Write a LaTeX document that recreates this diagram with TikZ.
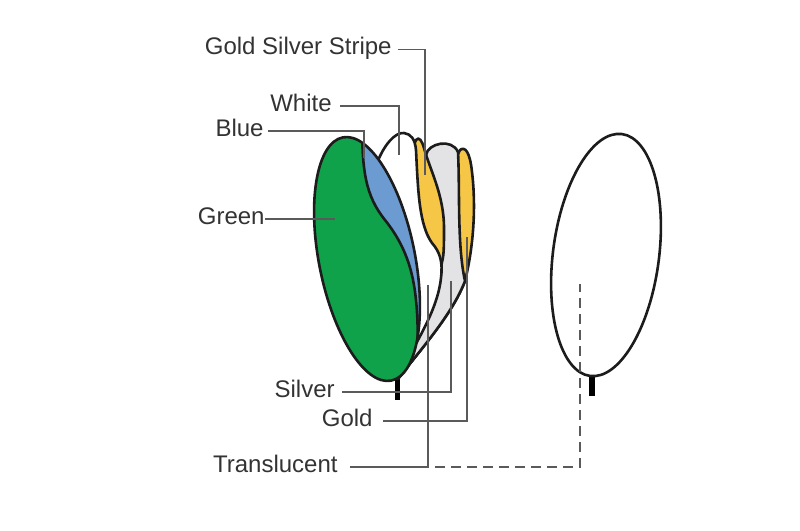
\documentclass[tikz,border=0pt]{standalone}
\usepackage{fontspec}
\setmainfont{Liberation Sans}
\definecolor{rim}{HTML}{1C1C1C}
\definecolor{reflgreen}{HTML}{0FA24B}
\definecolor{reflblue}{HTML}{6B9BD0}
\definecolor{reflgold}{HTML}{F6C646}
\definecolor{reflsilver}{HTML}{E3E3E6}
\definecolor{leadgrey}{HTML}{5A5A5A}
\definecolor{tagtext}{HTML}{333333}
\tikzstyle{disc}=[draw=rim,line width=1.3pt,line join=round]
\tikzstyle{handle}=[draw=black,line width=2.6pt]
\tikzstyle{tag}=[anchor=mid east,inner sep=0pt,font=\fontsize{12}{14}\selectfont,text=tagtext]
\tikzstyle{leader}=[draw=leadgrey,line width=0.65pt]
\tikzstyle{dashed leader}=[draw=leadgrey,line width=0.65pt,dash pattern=on 5pt off 3pt]

\begin{document}
\begin{tikzpicture}[x=0.5pt,y=-0.5pt]
    \useasboundingbox (0,0) rectangle (800,531);

    % handles
    \path[handle] (397.5,372) -- (397.5,400);
    \path[handle] (592,368) -- (592,396);

    % fanned discs, back to front
    \path[disc,fill=reflgold] (398,379) .. controls (425,320) and (448,170) .. (460,150)
        .. controls (465,146) and (470,152) .. (472,172)
        .. controls (476,205) and (474,245) .. (465,281)
        .. controls (452,315) and (420,350) .. (398,379) -- cycle;
    \path[disc,fill=reflsilver] (398,379) .. controls (420,330) and (428,200) .. (426,155)
        .. controls (428,143) and (452,138) .. (458,152)
        .. controls (460,190) and (457,245) .. (465,281)
        .. controls (452,315) and (420,350) .. (398,379) -- cycle;
    \path[disc,fill=reflgold] (398,379) .. controls (405,300) and (405,160) .. (416,140)
        .. controls (419,136) and (422,141) .. (424,148)
        .. controls (430,170) and (444,195) .. (444,228)
        .. controls (444,245) and (444,255) .. (442,262)
        .. controls (436,300) and (410,350) .. (398,379) -- cycle;
    \path[disc,fill=white] (398,379) .. controls (392,300) and (368,200) .. (377,163)
        .. controls (384,145) and (395,132) .. (404,133)
        .. controls (411,134) and (415,139) .. (416,150)
        .. controls (418,190) and (419,225) .. (432,243)
        .. controls (440,252) and (443,262) .. (441,278)
        .. controls (437,315) and (410,350) .. (398,379) -- cycle;

    % front disc
    \path[fill=reflgreen,rotate around={11.25:(367,259)}] (367,259) ellipse [x radius=48,y radius=124];
    \begin{scope}
        \clip[rotate around={11.25:(367,259)}] (367,259) ellipse [x radius=48,y radius=124];
        \fill[reflblue] (362,120) .. controls (362,170) and (365,195) .. (385,220)
            .. controls (405,245) and (413,270) .. (416,300)
            .. controls (418,320) and (418,335) .. (417,360) -- (470,360) -- (470,120) -- cycle;
        \draw[disc] (362,120) .. controls (362,170) and (365,195) .. (385,220)
            .. controls (405,245) and (413,270) .. (416,300)
            .. controls (418,320) and (418,335) .. (417,360);
    \end{scope}
    \path[disc,rotate around={11.25:(367,259)}] (367,259) ellipse [x radius=48,y radius=124];

    % pulled-out disc
    \path[disc,fill=white,rotate around={-7.5:(606,255)}] (606,255) ellipse [x radius=53,y radius=122];

    % labels and leaders
    \foreach \pos/\name/\text in {{(392,49.5)/gss/Gold Silver Stripe}, {(332,106)/white/White},
        {(264,131)/blue/Blue}, {(265,219)/green/Green}, {(335,392)/silver/Silver},
        {(373,421)/gold/Gold}, {(338,467)/translucent/Translucent}}
    \node[tag] (\name) at \pos {\text};

    \foreach \x/\y/\name in {425/175/gss end, 399/155/white end, 364/158/blue end,
        335/219/green end, 451/281/silver end, 467/237/gold end,
        428/285/translucent end, 580/284/pulled end}
    \coordinate (\name) at (\x,\y);

    \foreach \source/\dest/\gap in {gss/gss end/3pt, white/white end/4pt, blue/blue end/2pt,
        green/green end/0pt, silver/silver end/3.5pt, gold/gold end/5pt,
        translucent/translucent end/6pt}
    \path[leader,shorten <=\gap] (\source.mid east) -| (\dest);

    \path[dashed leader,shorten <=3.5pt] (translucent end |- translucent.mid east) -| (pulled end);
\end{tikzpicture}
\end{document}
